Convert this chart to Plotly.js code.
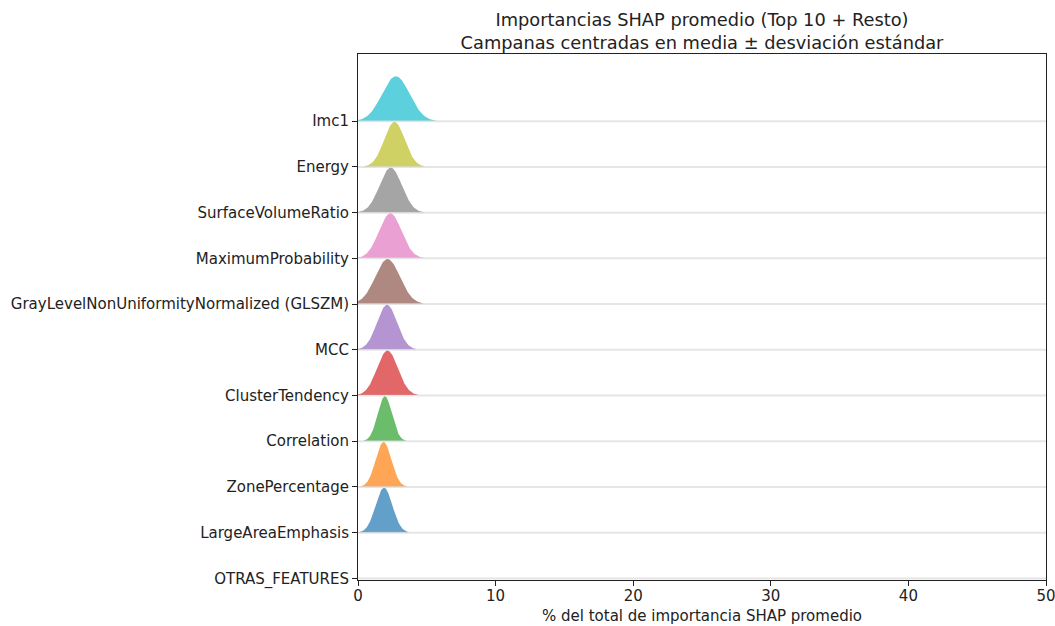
<!DOCTYPE html>
<html>
<head>
<meta charset="utf-8">
<script src="https://cdn.plot.ly/plotly-3.0.1.min.js"></script>
<style>
  html, body { margin: 0; padding: 0; background: #ffffff; }
  #chart { width: 1055px; height: 626px; }
</style>
</head>
<body>
<div id="chart"></div>
<script>
// Features, listed top to bottom as they appear on the y axis
const features = [
  "Imc1",
  "Energy",
  "SurfaceVolumeRatio",
  "MaximumProbability",
  "GrayLevelNonUniformityNormalized (GLSZM)",
  "MCC",
  "ClusterTendency",
  "Correlation",
  "ZonePercentage",
  "LargeAreaEmphasis",
  "OTRAS_FEATURES"
];

// Mean share of total SHAP importance (%) for each feature
const meanPct = [2.75, 2.65, 2.38, 2.35, 2.15, 2.11, 2.14, 1.95, 1.86, 1.89, 77.77];

// Standard deviation of that share (%)
const stdPct = [1.00, 0.75, 0.81, 0.82, 0.90, 0.73, 0.76, 0.52, 0.57, 0.61, 4.0];

// Bell colours (tab10 cycle, from the bottom row upward)
const colors = [
  "#17becf", "#bcbd22", "#7f7f7f", "#e377c2", "#8c564b",
  "#9467bd", "#d62728", "#2ca02c", "#ff7f0e", "#1f77b4", "#1f77b4"
];

// X axis ticks
const xTicks = [0, 10, 20, 30, 40, 50];

const BELL_HEIGHT = 0.985;   // peak height of each bell in row units
const N_PTS = 120;

function hexToRgba(hex, a) {
  const r = parseInt(hex.slice(1, 3), 16);
  const g = parseInt(hex.slice(3, 5), 16);
  const b = parseInt(hex.slice(5, 7), 16);
  return `rgba(${r},${g},${b},${a})`;
}

const n = features.length;
const rowPos = features.map((_, i) => n - 1 - i);

const traces = [];

// Gaussian bells centred on the mean, spread by the std, drawn bottom row first
for (let i = n - 1; i >= 0; i--) {
  const mu = meanPct[i], sd = stdPct[i], base = rowPos[i];
  const xs = [], ys = [];
  for (let k = 0; k <= N_PTS; k++) {
    const x = mu - 3 * sd + (6 * sd) * k / N_PTS;
    xs.push(x);
    ys.push(base + BELL_HEIGHT * Math.exp(-0.5 * Math.pow((x - mu) / sd, 2)));
  }
  traces.push({
    type: "scatter",
    mode: "lines",
    x: xs,
    y: ys,
    fill: "toself",
    fillcolor: hexToRgba(colors[i], 0.7),
    line: { width: 0, color: hexToRgba(colors[i], 0.7) },
    hoverinfo: "skip",
    showlegend: false
  });
}

// Light baseline under each row
for (let i = 0; i < n; i++) {
  traces.push({
    type: "scatter",
    mode: "lines",
    x: [xTicks[0], xTicks[xTicks.length - 1]],
    y: [rowPos[i], rowPos[i]],
    line: { color: "rgba(190,190,190,0.4)", width: 2 },
    hoverinfo: "skip",
    showlegend: false
  });
}

const fontFamily = "DejaVu Sans, Verdana, sans-serif";

const layout = {
  width: 1055,
  height: 626,
  paper_bgcolor: "#ffffff",
  plot_bgcolor: "#ffffff",
  margin: { l: 358, r: 9, t: 54, b: 46 },
  font: { family: fontFamily, size: 15, color: "#222222" },
  title: {
    text: "Importancias SHAP promedio (Top 10 + Resto)<br>Campanas centradas en media ± desviación estándar",
    font: { family: fontFamily, size: 17.8, color: "#222222" },
    x: 0.5,
    xref: "paper",
    xanchor: "center",
    y: 0.958,
    yref: "container",
    yanchor: "middle"
  },
  xaxis: {
    range: [0, 50],
    tickvals: xTicks,
    ticktext: xTicks.map(String),
    ticks: "outside",
    ticklen: 5,
    tickwidth: 1,
    tickcolor: "#222222",
    ticklabeloverflow: "allow",
    ticklabelstandoff: -3,
    showgrid: false,
    zeroline: false,
    showline: true,
    linecolor: "#222222",
    linewidth: 1,
    mirror: true,
    tickfont: { family: fontFamily, size: 15, color: "#222222" },
    title: {
      text: "% del total de importancia SHAP promedio",
      font: { family: fontFamily, size: 15, color: "#222222" },
      standoff: 6
    }
  },
  yaxis: {
    range: [-0.035, 11.47],
    tickvals: rowPos,
    ticktext: features,
    ticks: "outside",
    ticklen: 5,
    tickwidth: 1,
    tickcolor: "#222222",
    showgrid: false,
    zeroline: false,
    showline: true,
    linecolor: "#222222",
    linewidth: 1,
    mirror: true,
    tickfont: { family: fontFamily, size: 15, color: "#222222" }
  }
};

Plotly.newPlot("chart", traces, layout, { displayModeBar: false, staticPlot: true });
</script>
</body>
</html>
